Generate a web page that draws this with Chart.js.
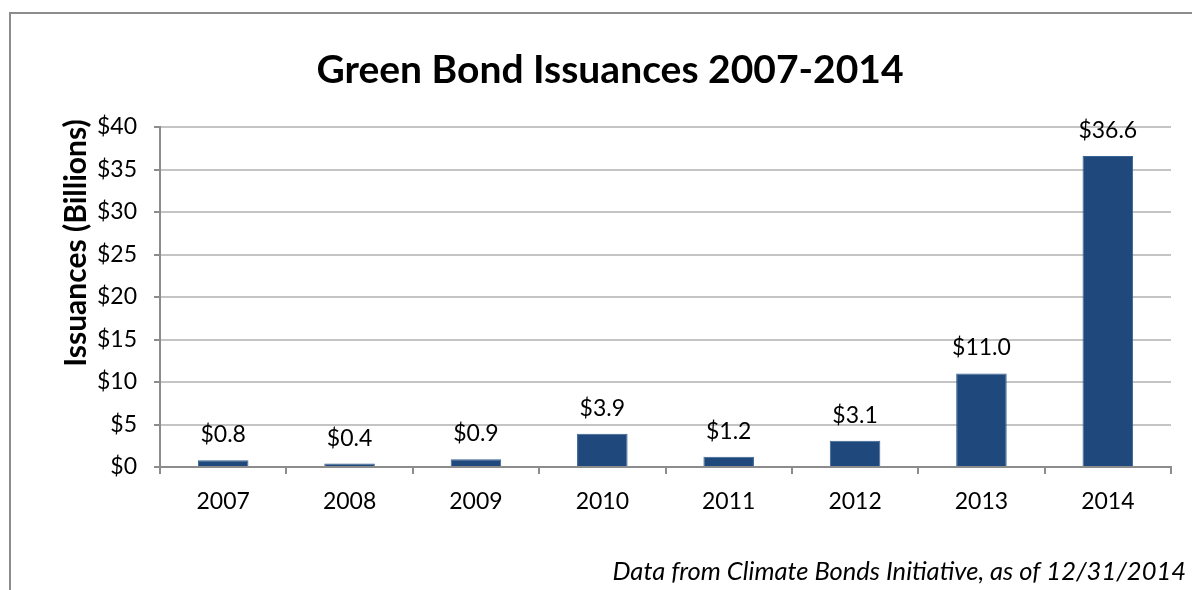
<!DOCTYPE html>
<html>
<head>
<meta charset="utf-8">
<script src="https://cdn.jsdelivr.net/npm/chart.js@4/dist/chart.umd.min.js"></script>
<style>
  html, body { margin: 0; padding: 0; background: #fff; }
  #wrap { width: 1192px; height: 590px; }
</style>
</head>
<body>
<div id="wrap"><canvas id="chart" width="1192" height="590"></canvas></div>
<script>
const years = ['2007', '2008', '2009', '2010', '2011', '2012', '2013', '2014']
const issuances = [0.8, 0.4, 0.9, 3.9, 1.2, 3.1, 11.0, 36.6]
const yTicks = [0, 5, 10, 15, 20, 25, 30, 35, 40]

const FONT = 'Lato, "Open Sans", sans-serif'

// frame, titles, footnote and value labels
const extras = {
    id: 'extras',
    beforeDraw(chart) {
        const ctx = chart.ctx
        ctx.save()
        ctx.fillStyle = '#fff'
        ctx.fillRect(0, 0, chart.width, chart.height)
        ctx.strokeStyle = '#8c8c8c'
        ctx.lineWidth = 2
        ctx.beginPath()
        ctx.moveTo(10, chart.height)
        ctx.lineTo(10, 13)
        ctx.lineTo(chart.width, 13)
        ctx.stroke()
        ctx.restore()
    },
    afterDatasetsDraw(chart) {
        const ctx = chart.ctx
        const meta = chart.getDatasetMeta(0)
        ctx.save()
        ctx.fillStyle = '#000'
        ctx.font = '23px ' + FONT
        ctx.textAlign = 'center'
        ctx.textBaseline = 'bottom'
        meta.data.forEach((bar, i) => {
            ctx.fillText('$' + issuances[i].toFixed(1), bar.x, bar.y - 14)
        })
        ctx.restore()
    },
    afterDraw(chart) {
        const ctx = chart.ctx
        ctx.save()
        ctx.fillStyle = '#000'
        ctx.textBaseline = 'middle'
        ctx.textAlign = 'center'
        ctx.font = 'bold 39px ' + FONT
        ctx.fillText('Green Bond Issuances 2007-2014', 610, 70)

        ctx.save()
        ctx.translate(76, 243)
        ctx.rotate(-Math.PI / 2)
        ctx.font = 'bold 30px ' + FONT
        ctx.fillText('Issuances (Billions)', 0, 0)
        ctx.restore()

        ctx.textAlign = 'right'
        ctx.font = 'italic 25.5px ' + FONT
        ctx.fillText('Data from Climate Bonds Initiative, as of 12/31/2014', 1186, 572)
        ctx.restore()
    }
}

new Chart('chart', {
    type: 'bar',
    data: {
        labels: years,
        datasets: [{
            data: issuances,
            backgroundColor: '#1f497d',
            borderColor: '#3a6291',
            borderWidth: 1,
            barPercentage: 0.4,
            categoryPercentage: 1.0
        }]
    },
    options: {
        responsive: false,
        animation: false,
        layout: { padding: { top: 127, left: 0, right: 21, bottom: 0 } },
        plugins: {
            legend: { display: false },
            title: { display: false },
            tooltip: { enabled: false }
        },
        scales: {
            x: {
                afterFit(scale) { scale.height = 123 },
                grid: {
                    offset: true,
                    drawOnChartArea: false,
                    drawTicks: true,
                    tickLength: 7,
                    color: '#8c8c8c',
                    lineWidth: 2
                },
                border: { display: true, color: '#8c8c8c', width: 2 },
                ticks: {
                    color: '#000',
                    padding: 14,
                    font: { family: FONT, size: 23 }
                }
            },
            y: {
                min: 0,
                max: 40,
                afterFit(scale) { scale.width = 160 },
                afterBuildTicks(scale) { scale.ticks = yTicks.map(v => ({ value: v })) },
                grid: {
                    color: '#c4c4c4',
                    lineWidth: 2,
                    tickLength: 6,
                    tickColor: '#8c8c8c'
                },
                border: { display: true, color: '#8c8c8c', width: 2 },
                ticks: {
                    color: '#000',
                    padding: 17,
                    font: { family: FONT, size: 23 },
                    callback: v => '$' + v
                }
            }
        }
    },
    plugins: [extras]
})
</script>
</body>
</html>
